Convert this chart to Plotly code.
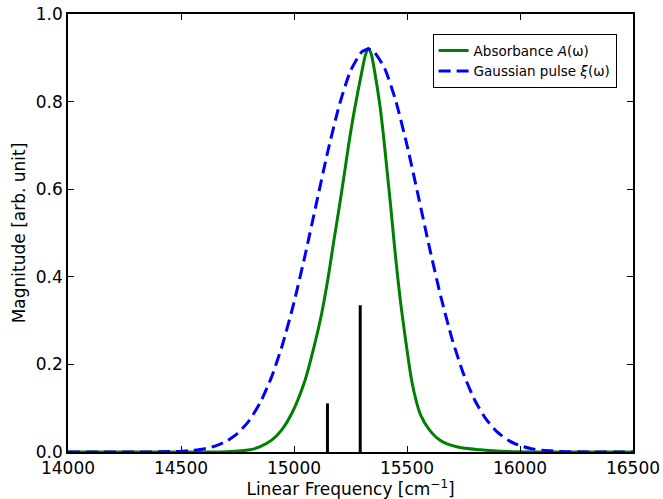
import plotly.graph_objects as go

# Gaussian pulse (blue dashed)
gauss_x = [14000, 14300, 14400, 14500, 14550, 14600, 14650, 14700, 14750, 14800, 14850, 14900,
           14950, 15000, 15050, 15100, 15150, 15200, 15250, 15300, 15328, 15350, 15400, 15450,
           15500, 15550, 15600, 15650, 15700, 15750, 15800, 15850, 15900, 15950, 16000, 16050,
           16100, 16200, 16300, 16500]
gauss_y = [0.0, 0.0001, 0.0003, 0.0017, 0.0035, 0.0070, 0.0133, 0.0243, 0.0424, 0.0706, 0.1122, 0.1703,
           0.2467, 0.3416, 0.4514, 0.5699, 0.6872, 0.7911, 0.8699, 0.9134, 0.92, 0.9159, 0.8771, 0.8022,
           0.7006, 0.5843, 0.4654, 0.3540, 0.2572, 0.1784, 0.1182, 0.0748, 0.0452, 0.0261, 0.0144, 0.0076,
           0.0038, 0.0008, 0.0002, 0.0]

# Absorbance (green)
abs_x = [14000, 14600, 14700, 14805, 14850, 14901, 14945, 14990, 15049, 15088, 15122, 15150,
         15175, 15200, 15223, 15245, 15270, 15299, 15316, 15329, 15342, 15358, 15381, 15398,
         15413, 15428, 15442, 15457, 15472, 15490, 15505, 15520, 15540, 15560, 15600, 15646,
         15720, 15823, 15950, 16100, 16500]
abs_y = [0.0, 0.0, 0.0005, 0.005, 0.012, 0.027, 0.050, 0.088, 0.164, 0.239, 0.315, 0.395,
         0.478, 0.558, 0.636, 0.712, 0.788, 0.865, 0.906, 0.922, 0.908, 0.865, 0.788, 0.712,
         0.636, 0.560, 0.484, 0.408, 0.340, 0.270, 0.215, 0.165, 0.118, 0.085, 0.050, 0.027,
         0.012, 0.005, 0.001, 0.0, 0.0]

# Stick spectrum
stick_x = [15148, 15293]
stick_y = [0.111, 0.335]

x_ticks = [14000, 14500, 15000, 15500, 16000, 16500]
y_ticks = [0.0, 0.2, 0.4, 0.6, 0.8, 1.0]

fig = go.Figure()

for sx, sy in zip(stick_x, stick_y):
    fig.add_trace(go.Scatter(x=[sx, sx], y=[0, sy], mode="lines",
                             line=dict(color="black", width=3), showlegend=False,
                             hoverinfo="skip"))

fig.add_trace(go.Scatter(x=abs_x, y=abs_y, mode="lines", name="Absorbance <i>A</i>(ω)",
                         line=dict(color="green", width=3, shape="spline", smoothing=0.8)))
fig.add_trace(go.Scatter(x=gauss_x, y=gauss_y, mode="lines", name="Gaussian pulse <i>ξ</i>(ω)",
                         line=dict(color="blue", width=3, dash="12px,6px", shape="spline", smoothing=0.6)))

font_family = "DejaVu Sans"
axis_common = dict(showline=True, linecolor="black", linewidth=1.5, mirror="allticks",
                   ticks="inside", ticklen=6, tickwidth=1, tickcolor="black",
                   showgrid=False, zeroline=False, automargin=False,
                   tickfont=dict(family=font_family, size=17, color="black"))

fig.update_layout(
    width=663, height=499,
    margin=dict(l=68, r=30, t=14, b=47),
    paper_bgcolor="white", plot_bgcolor="white",
    font=dict(family=font_family, color="black"),
    xaxis=dict(range=[14000, 16500], tickvals=x_ticks, ticktext=[str(v) for v in x_ticks],
               title=dict(text="Linear Frequency [cm<sup>−1</sup>]", font=dict(size=17), standoff=3),
               **axis_common),
    yaxis=dict(range=[0, 1.0], tickvals=y_ticks, ticktext=[f"{v:.1f}" for v in y_ticks],
               title=dict(text="Magnitude [arb. unit]", font=dict(size=17), standoff=6),
               **axis_common),
    legend=dict(x=0.971, y=0.954, xanchor="right", yanchor="top",
                bgcolor="white", bordercolor="black", borderwidth=1,
                font=dict(family=font_family, size=13.5, color="black"),
                tracegroupgap=4),
    showlegend=True,
)

fig.write_html("out.html")
